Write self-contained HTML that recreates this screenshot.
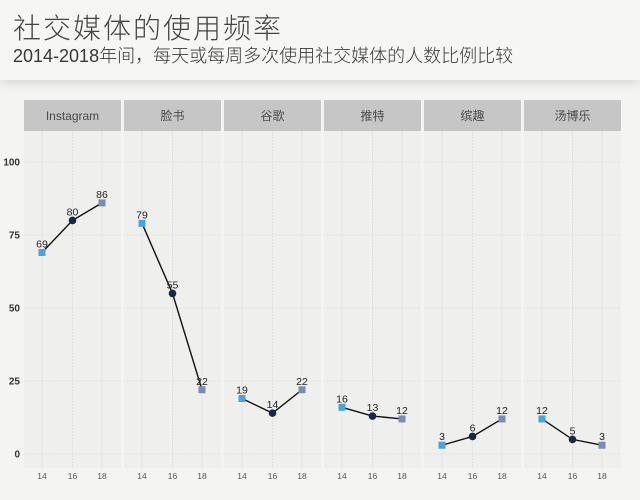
<!DOCTYPE html>
<html><head><meta charset="utf-8">
<style>
html,body{margin:0;padding:0;}
body{width:640px;height:500px;background:#f4f4f2;position:relative;overflow:hidden;font-family:"Liberation Sans","Noto Sans CJK SC",sans-serif;}
.hdr{position:absolute;left:0;top:0;width:640px;height:80px;background:#f6f6f4;box-shadow:0 3px 10px rgba(0,0,0,0.13);}
.t1{position:absolute;left:13px;top:15px;font-size:28px;letter-spacing:2px;color:#444;white-space:nowrap;line-height:1;font-weight:300;}
.t2{position:absolute;left:13px;top:47px;font-size:18px;color:#383838;white-space:nowrap;line-height:1;font-weight:300;}
svg{position:absolute;left:0;top:0;}
</style></head><body>
<div class="hdr"></div>
<div class="t1">社交媒体的使用频率</div>
<div class="t2">2014-2018年间，每天或每周多次使用社交媒体的人数比例比较</div>
<svg width="640" height="500" viewBox="0 0 640 500" xmlns="http://www.w3.org/2000/svg" font-family="Liberation Sans, Noto Sans CJK SC, sans-serif">
<g id="panels"></g>
</svg>
<script>
(function(){
var names=["Instagram","脸书","谷歌","推特","缤趣","汤博乐"];
var data=[[69,80,86],[79,55,22],[19,14,22],[16,13,12],[3,6,12],[12,5,3]];
var g=document.getElementById("panels");
var ns="http://www.w3.org/2000/svg";
function el(t,a,txt){var e=document.createElementNS(ns,t);for(var k in a)e.setAttribute(k,a[k]);if(txt!==undefined)e.textContent=txt;g.appendChild(e);return e;}
function Y(v){return 454-v*2.92;}
var ticks=[0,25,50,75,100];
for(var i=0;i<ticks.length;i++){
  el("text",{x:20,y:Y(ticks[i])+3.5,"text-anchor":"end","font-size":"10","font-weight":"bold",fill:"#333"},String(ticks[i]));
}
for(var p=0;p<6;p++){
  var x0=24+100*p;
  el("rect",{x:x0,y:100,width:97,height:31,fill:"#c6c6c6"});
  el("text",{x:x0+48.5,y:120,"text-anchor":"middle","font-size":"12",fill:"#4a4a4a"},names[p]);
  el("rect",{x:x0,y:131,width:97,height:337,fill:"#efefee"});
  var xs=[x0+18,x0+48.5,x0+78];
  for(var i=0;i<ticks.length;i++){
    el("line",{x1:x0,x2:x0+97,y1:Y(ticks[i]),y2:Y(ticks[i]),stroke:"#e0e0e0","stroke-width":"1","stroke-dasharray":"2,1"});
  }
  for(var j=0;j<3;j++){
    el("line",{x1:xs[j],x2:xs[j],y1:131,y2:468,stroke:"#e0e0e0","stroke-width":"1","stroke-dasharray":"2,1"});
    el("text",{x:xs[j],y:479,"text-anchor":"middle","font-size":"8.5",fill:"#555"},["14","16","18"][j]);
  }
  var d=data[p];
  el("polyline",{points:xs.map(function(x,k){return x+","+Y(d[k]);}).join(" "),fill:"none",stroke:"#111","stroke-width":"1.4"});
  el("rect",{x:xs[0]-3.5,y:Y(d[0])-3.5,width:7,height:7,fill:"#47a4dc"});
  el("circle",{cx:xs[1],cy:Y(d[1]),r:3.8,fill:"#1c2541"});
  el("rect",{x:xs[2]-3.5,y:Y(d[2])-3.5,width:7,height:7,fill:"#7a8db0"});
  for(var j=0;j<3;j++){
    el("text",{x:xs[j],y:Y(d[j])-5,"text-anchor":"middle","font-size":"10.5",fill:"#222"},String(d[j]));
  }
}
})();
</script>
</body></html>
